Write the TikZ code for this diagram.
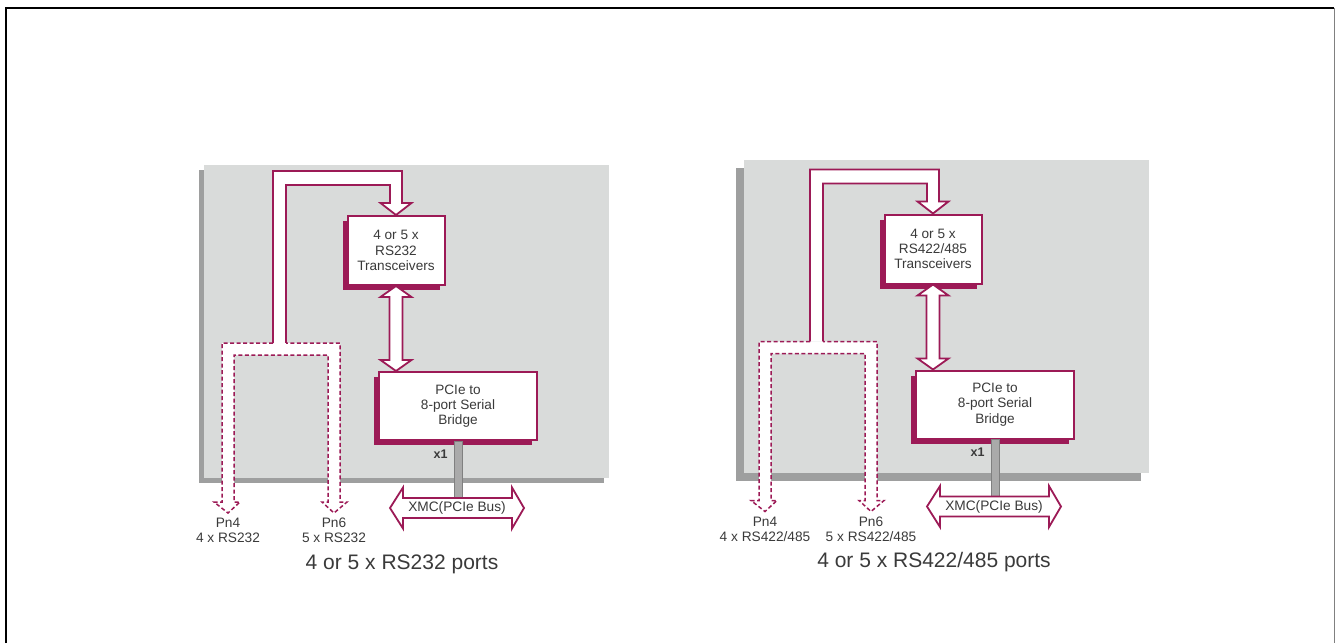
\documentclass[tikz,border=0pt]{standalone}
\usepackage{fontspec}
\setmainfont{Liberation Sans}
\usepackage{tikz}
\usetikzlibrary{calc, shadows}

\definecolor{wine}{RGB}{156,26,86}
\definecolor{board}{RGB}{217,219,218}
\definecolor{boardshadow}{RGB}{158,159,159}
\definecolor{txt}{RGB}{58,58,58}
\definecolor{stubgray}{RGB}{170,170,170}

\newcommand{\devA}{RS232}
\newcommand{\devB}{RS422/485}

\tikzset{
    chip/.style={draw=wine, line width=2pt, fill=white, text=txt, align=center,
        inner sep=0pt, font=\fontsize{13.6}{15.2}\selectfont,
        general shadow={fill=wine, shadow xshift=-5pt, shadow yshift=-5pt}},
    bus/.style={draw=wine, line width=1.8pt, fill=white, line join=miter},
    optbus/.style={draw=wine, line width=1.5pt, fill=white, dash pattern=on 4pt off 2.5pt},
    stub/.style={draw=gray, line width=0.6pt, fill=stubgray},
    lbl/.style={text=txt, align=center, inner sep=0pt, font=\fontsize{13.7}{15}\selectfont}
}

\begin{document}
\begin{tikzpicture}[x=1pt, y=-1pt]
\useasboundingbox (0,0) rectangle (1335,643);
% Frame
\draw[line width=2pt] (6,643) -- (6,8) -- (1334,8);
\draw[gray, line width=0.8pt] (1334,8) -- (1334,643);
% Boards
\fill[boardshadow] (199,170) rectangle (604,483);
\fill[board] (204,165) rectangle (609,478);
\fill[boardshadow] (736,168) rectangle (1141,481);
\fill[board] (744,160) rectangle (1149,473);
% Both cards
\foreach \sx/\sy/\dev/\cx in {0/0/\devA/402, 537/-1.5/\devB/397} {
\begin{scope}[shift={(\sx,\sy)}]
% Chips
\node[chip, minimum width=97pt, minimum height=69pt] (trans) at (396,250.5) {4 or 5 x\\\dev\\Transceivers};
\node[chip, minimum width=158pt, minimum height=68pt] (bridge) at (458,406) {PCIe to\\8-port Serial\\Bridge};
% Serial bus to the transceivers
\coordinate (n) at (trans.north);
\draw[bus] (273,343) |- ($(n)+(6,-44)$) -- ($(n)+(6,-12)$) -- ($(n)+(15.5,-12)$) -- (n)
    -- ($(n)+(-15.5,-12)$) -- ($(n)+(-6,-12)$) -- ($(n)+(-6,-30)$) -| (286,343);
% Transceivers <-> bridge
\coordinate (t) at (trans.south);
\coordinate (b) at (trans.south |- bridge.north);
\draw[bus] (t) -- ($(t)+(15.5,11)$) -- ($(t)+(6.5,11)$) -- ($(b)+(6.5,-11)$) -- ($(b)+(15.5,-11)$)
    -- (b) -- ($(b)+(-15.5,-11)$) -- ($(b)+(-6.5,-11)$) -- ($(t)+(-6.5,11)$) -- ($(t)+(-15.5,11)$) -- cycle;
% Ports to Pn4 / Pn6
\coordinate (pa) at (228,513);
\coordinate (pb) at (334,513);
\draw[optbus] (273,343) -- (222,343) -- (222,502) -- (214,502) -- (pa) -- (240,502) -- (234,502)
    -- (234,355) -- (328,355) -- (328,502) -- (322,502) -- (pb) -- (347,502) -- (340,502)
    -- (340,343) -- (286,343);
\node[lbl, below=5pt] (pna) at (pa) {Pn4\\4 x \dev};
\node[lbl, below=5pt] (pnb) at (pb) {Pn6\\5 x \dev};
% XMC bus
\coordinate (x) at (457,508);
\draw[stub] ($(bridge.south)+(-4,0)$) rectangle ($(x)+(5,-10)$);
\draw[bus] ($(x)+(-67,0)$) -- ($(x)+(-54,-20.5)$) -- ($(x)+(-54,-10)$) -- ($(x)+(55,-10)$) -- ($(x)+(55,-20.5)$)
    -- ($(x)+(67,0)$) -- ($(x)+(55,20.5)$) -- ($(x)+(55,10)$) -- ($(x)+(-54,10)$) -- ($(x)+(-54,20.5)$) -- cycle;
\node[lbl] (xmc) at (x) {XMC(PCIe Bus)};
\node[text=txt, font=\fontsize{12.5}{14}\bfseries\selectfont, anchor=east] (lane) at ($(bridge.south)+(-7,13)$) {x1};
% Caption
\node[text=txt, font=\fontsize{21}{24}\selectfont] (cap) at (\cx,564) {4 or 5 x \dev{} ports};
\end{scope}
}
\end{tikzpicture}
\end{document}
